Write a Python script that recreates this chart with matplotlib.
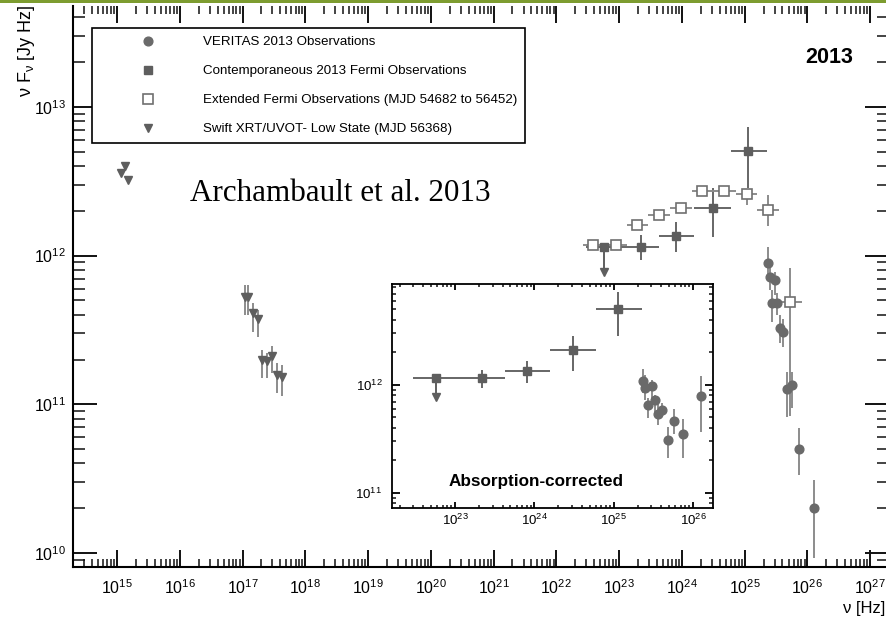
import matplotlib
matplotlib.use("Agg")
import matplotlib.pyplot as plt
import numpy as np
from matplotlib.ticker import (FixedLocator, LogLocator, NullFormatter,
                               LogFormatterSciNotation)
from matplotlib.patches import Rectangle

plt.rcParams['font.family'] = ['Liberation Sans', 'DejaVu Sans']
plt.rcParams['mathtext.default'] = 'regular'

# VERITAS 2013, same energy bins for observed and absorption-corrected points
veritas_nu = [2.34e25, 2.51e25, 2.75e25, 3.02e25, 3.31e25, 3.63e25,
              4.07e25, 4.79e25, 5.75e25, 7.41e25, 1.26e26]
veritas_flux = [8.97e11, 7.23e11, 4.83e11, 6.90e11, 4.83e11, 3.28e11,
                3.08e11, 1.26e11, 1.34e11, 5.04e10, 2.02e10]
veritas_lo = [7.11e11, 5.90e11, 3.60e11, 5.47e11, 4.01e11, 2.60e11,
              2.44e11, 8.26e10, 9.51e10, 3.37e10, 9.3e9]
veritas_hi = [1.15e12, 8.43e11, 5.90e11, 7.80e11, 5.64e11, 4.01e11,
              3.72e11, 1.66e11, 1.66e11, 6.97e10, 3.12e10]

veritas_corr_flux = [1.09e12, 9.33e11, 6.46e11, 9.77e11, 7.24e11, 5.37e11,
                     5.89e11, 3.09e11, 4.68e11, 3.55e11, 7.94e11]
veritas_corr_lo = [8.43e11, 7.24e11, 4.90e11, 7.59e11, 5.62e11, 4.27e11,
                   5.01e11, 2.09e11, 3.55e11, 2.09e11, 3.63e11]
veritas_corr_hi = [1.41e12, 1.23e12, 7.59e11, 1.10e12, 8.13e11, 6.76e11,
                   6.76e11, 4.07e11, 6.03e11, 4.79e11, 1.20e12]

# contemporaneous Fermi-LAT, first bin is an upper limit
fermi_edges = [2.95e22, 1.12e23, 4.27e23, 1.58e24, 6.03e24, 2.29e25]
fermi_nu = [5.75e22, 2.19e23, 8.13e23, 3.09e24, 1.15e25]
fermi_flux = [1.15e12, 1.15e12, 1.36e12, 2.10e12, 5.08e12]
fermi_lo = [1.15e12, 9.40e11, 1.05e12, 1.34e12, 2.85e12]
fermi_hi = [1.15e12, 1.38e12, 1.67e12, 2.86e12, 7.30e12]
fermi_ul = [True, False, False, False, False]

# extended Fermi-LAT (MJD 54682 to 56452)
ext_edges = [2.63e22, 5.89e22, 1.32e23, 2.92e23, 6.53e23, 1.43e24,
             3.13e24, 7.16e24, 1.60e25, 3.55e25, 8.13e25]
ext_nu = [3.89e22, 8.91e22, 1.95e23, 4.37e23, 9.77e23, 2.09e24,
          4.68e24, 1.10e25, 2.34e25, 5.37e25]
ext_flux = [1.17e12, 1.17e12, 1.61e12, 1.89e12, 2.10e12, 2.74e12,
            2.74e12, 2.61e12, 2.04e12, 4.91e11]
ext_lo = [1.10e12, 1.10e12, 1.52e12, 1.78e12, 1.98e12, 2.58e12,
          2.58e12, 2.20e12, 1.57e12, 8.3e10]
ext_hi = [1.24e12, 1.24e12, 1.71e12, 2.00e12, 2.23e12, 2.90e12,
          2.90e12, 2.82e12, 2.57e12, 8.3e11]

# Swift UVOT (first three) and XRT, low state MJD 56368
swift_nu = [1.15e15, 1.35e15, 1.51e15, 1.10e17, 1.23e17, 1.48e17,
            1.78e17, 2.04e17, 2.45e17, 2.95e17, 3.55e17, 4.27e17]
swift_flux = [3.61e12, 4.03e12, 3.24e12, 5.30e11, 5.25e11, 4.10e11,
              3.72e11, 2.00e11, 1.95e11, 2.11e11, 1.58e11, 1.53e11]
swift_lo = [3.61e12, 4.03e12, 3.24e12, 4.01e11, 4.01e11, 3.08e11,
            2.85e11, 1.51e11, 1.51e11, 1.63e11, 1.20e11, 1.13e11]
swift_hi = [3.61e12, 4.03e12, 3.24e12, 6.38e11, 6.38e11, 4.83e11,
            4.34e11, 2.33e11, 2.23e11, 2.48e11, 1.91e11, 1.85e11]

labels = ['VERITAS 2013 Observations',
          'Contemporaneous 2013 Fermi Observations',
          'Extended Fermi Observations (MJD 54682 to 56452)',
          'Swift XRT/UVOT- Low State (MJD 56368)']


def points(ax, nu, flux, lo, hi, edges=None, ecolor='#888888', label=None, **mk):
    nu = np.asarray(nu)
    flux = np.asarray(flux)
    yerr = [flux - np.asarray(lo), np.asarray(hi) - flux]
    xerr = None
    if edges is not None:
        edges = np.asarray(edges)
        xerr = [nu - edges[:-1], edges[1:] - nu]
    ax.errorbar(nu, flux, xerr=xerr, yerr=yerr, fmt='none', ecolor=ecolor,
                elinewidth=1.4, capsize=0, zorder=2)
    ax.plot(nu, flux, ls='none', label=label, zorder=3, **mk)


def upper_limits(ax, nu, flux, ul, color):
    for x, y, u in zip(nu, flux, ul):
        if u:
            ax.plot([x, x], [y, y * 10 ** -0.17], color=color, lw=1.4, zorder=2)
            ax.plot(x, y * 10 ** -0.17, marker='v', ms=6, color=color,
                    ls='none', zorder=3)


circ = dict(marker='o', ms=6.3, mfc='#6a6a6a', mec='#6a6a6a')
sq = dict(marker='s', ms=5.5, mfc='#5e5e5e', mec='#5e5e5e')
osq = dict(marker='s', ms=6.5, mfc='white', mec='#707070', mew=1.2)
tri = dict(marker='v', ms=6, mfc='#5e5e5e', mec='#5e5e5e')

fig = plt.figure(figsize=(8.87, 6.21), dpi=100)
ax = fig.add_axes([0.0823, 0.0870, 0.9200, 0.9034])

points(ax, veritas_nu, veritas_flux, veritas_lo, veritas_hi,
       ecolor='#8c8c8c', label=labels[0], **circ)
points(ax, fermi_nu, fermi_flux, fermi_lo, fermi_hi, edges=fermi_edges,
       ecolor='#666666', label=labels[1], **sq)
upper_limits(ax, fermi_nu, fermi_flux, fermi_ul, '#5e5e5e')
points(ax, ext_nu, ext_flux, ext_lo, ext_hi, edges=ext_edges,
       ecolor='#8c8c8c', label=labels[2], **osq)
points(ax, swift_nu, swift_flux, swift_lo, swift_hi,
       ecolor='#8c8c8c', label=labels[3], **tri)

ax.set_xscale('log')
ax.set_yscale('log')
ax.set_xlim(10 ** 14.299, 10 ** 27.30)
ax.set_ylim(10 ** 9.906, 10 ** 13.679)


def decades(lims):
    lo, hi = np.log10(lims)
    return 10.0 ** np.arange(np.ceil(lo), np.floor(hi) + 1)


def log_axes(a, xmaj, xmin, ymaj, ymin, size, xpad, ypad, lw):
    for axis, lims in ((a.xaxis, a.get_xlim()), (a.yaxis, a.get_ylim())):
        # only label the decades inside the view
        axis.set_major_locator(FixedLocator(decades(lims)))
        axis.set_minor_locator(LogLocator(base=10, subs=np.arange(2, 10), numticks=40))
        axis.set_major_formatter(LogFormatterSciNotation())
        axis.set_minor_formatter(NullFormatter())
    a.tick_params(which='both', direction='in', top=True, right=True,
                  color='#111111', labelsize=size)
    a.tick_params(axis='x', which='major', length=xmaj, width=1.4, pad=xpad)
    a.tick_params(axis='x', which='minor', length=xmin, width=1.1)
    a.tick_params(axis='y', which='major', length=ymaj, width=1.4, pad=ypad)
    a.tick_params(axis='y', which='minor', length=ymin, width=1.1)
    for s in a.spines.values():
        s.set_linewidth(lw)


log_axes(ax, 12.2, 5.8, 17.3, 8.6, 11.5, 8, 5, 1.5)
ax.spines['top'].set_visible(False)

leg = ax.legend(loc='upper left', bbox_to_anchor=(0.0233, 0.961),
                borderaxespad=0, fontsize=9.6, frameon=True, fancybox=False,
                borderpad=0.6, handlelength=7.2, handletextpad=0.52,
                labelspacing=1.25, numpoints=1)
leg.get_frame().set_edgecolor('black')
leg.get_frame().set_linewidth(1.2)
leg.get_frame().set_alpha(1)

ax.text(0.9265, 0.9075, '2013', transform=ax.transAxes, ha='center',
        va='center', fontsize=15.5, fontweight='bold')
ax.text(0.1434, 0.653, 'Archambault et al. 2013', transform=ax.transAxes,
        ha='left', va='baseline', fontsize=22.4, family='Liberation Serif')

fig.text(27 / 887, 1 - 4 / 621, 'ν F$_{ν}$ [Jy Hz]', rotation=90,
         ha='center', va='top', fontsize=13)
fig.text(885 / 887, 1 - 608 / 621, 'ν [Hz]', ha='right', va='center',
         fontsize=12)

# absorption-corrected inset
ins = fig.add_axes([0.4419, 0.1820, 0.3619, 0.3607])
ins.set_facecolor('white')
points(ins, veritas_nu, veritas_corr_flux, veritas_corr_lo, veritas_corr_hi,
       ecolor='#8c8c8c', **circ)
points(ins, fermi_nu, fermi_flux, fermi_lo, fermi_hi, edges=fermi_edges,
       ecolor='#666666', **sq)
upper_limits(ins, fermi_nu, fermi_flux, fermi_ul, '#5e5e5e')
ins.set_xscale('log')
ins.set_yscale('log')
ins.set_xlim(10 ** 22.206, 10 ** 26.252)
ins.set_ylim(10 ** 10.861, 10 ** 12.935)
log_axes(ins, 4.3, 2.2, 5.8, 3.0, 9.5, 3.6, 7, 1.3)
ins.text(0.449, 0.116, 'Absorption-corrected', transform=ins.transAxes,
         ha='center', va='center', fontsize=12.3, fontweight='bold')

# green band along the top edge
fig.patches.append(Rectangle((0, 1 - 3 / 621), 1, 3 / 621, transform=fig.transFigure,
                             facecolor='#7d9c30', edgecolor='none', zorder=10))

fig.savefig('out.png', dpi=100)
